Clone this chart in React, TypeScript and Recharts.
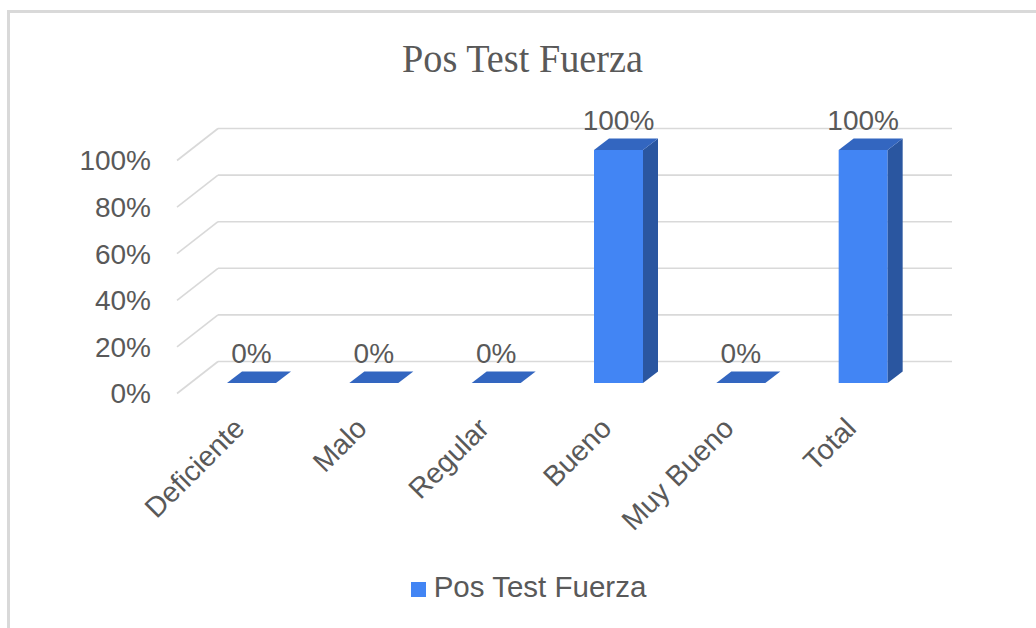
import { Bar, BarChart, CartesianGrid, LabelList, Legend, XAxis, YAxis } from "recharts";

const categories = ["Deficiente", "Malo", "Regular", "Bueno", "Muy Bueno", "Total"];
const values = [0, 0, 0, 1, 0, 1];
const yTicks = [0, 0.2, 0.4, 0.6, 0.8, 1];
const seriesName = "Pos Test Fuerza";

const data = categories.map((name, i) => ({ name, value: values[i] }));

const W = 1036;
const H = 628;
const PLOT_LEFT = 190;
const PLOT_RIGHT = 924;
const PLOT_TOP = 150;
const PLOT_BOTTOM = 383;

// 3d offsets
const BACK_DX = 28;
const BACK_DY = -21.5;
const FRONT_DX = -13;
const FRONT_DY = 10.5;
const DEPTH_X = 15;
const DEPTH_Y = -11.5;

const textColor = "#595959";
const sans = "'Liberation Sans', Arial, sans-serif";

const pct = (v: number) => `${Math.round(v * 100)}%`;

function GridLine(props: any) {
  const { x1, x2, y1, index } = props;
  return (
    <g key={`grid-${index}`}>
      <line x1={x1 + BACK_DX} x2={x2 + BACK_DX} y1={y1 + BACK_DY} y2={y1 + BACK_DY} stroke="#d9d9d9" strokeWidth={1.6} />
      <line x1={x1 + FRONT_DX} y1={y1 + FRONT_DY} x2={x1 + BACK_DX} y2={y1 + BACK_DY} stroke="#d9d9d9" strokeWidth={1.6} />
    </g>
  );
}

function Bar3D(props: any) {
  const { x, y, width, height } = props;
  const top = `${x},${y} ${x + DEPTH_X},${y + DEPTH_Y} ${x + width + DEPTH_X},${y + DEPTH_Y} ${x + width},${y}`;
  const side = `${x + width},${y} ${x + width + DEPTH_X},${y + DEPTH_Y} ${x + width + DEPTH_X},${y + height + DEPTH_Y} ${x + width},${y + height}`;
  return (
    <g>
      {height > 0 && <rect x={x} y={y} width={width} height={height} fill="#4285f4" />}
      {height > 0 && <polygon points={side} fill="#2a56a0" />}
      <polygon points={top} fill="#3366c0" />
    </g>
  );
}

function YTick(props: any) {
  const { y, payload } = props;
  return (
    <text x={PLOT_LEFT - 39} y={y + FRONT_DY} dy="0.35em" textAnchor="end" fill={textColor} fontSize={28} fontFamily={sans}>
      {pct(payload.value)}
    </text>
  );
}

function XTick(props: any) {
  const { x, payload } = props;
  const tx = x - 5;
  const ty = PLOT_BOTTOM + 47;
  return (
    <text
      x={tx}
      y={ty}
      textAnchor="end"
      transform={`rotate(-45 ${tx} ${ty})`}
      fill={textColor}
      fontSize={28.5}
      fontFamily={sans}
    >
      {payload.value}
    </text>
  );
}

function ValueLabel(props: any) {
  const { x, y, width, value } = props;
  return (
    <text x={x + width / 2} y={y - 20} textAnchor="middle" fill={textColor} fontSize={28} fontFamily={sans}>
      {pct(value)}
    </text>
  );
}

function LegendContent() {
  return (
    <div style={{ display: "flex", justifyContent: "center", alignItems: "center", paddingLeft: 21 }}>
      <span style={{ display: "inline-block", width: 15, height: 15, background: "#4285f4", marginRight: 8, position: "relative", top: 2 }} />
      <span style={{ fontSize: 29.5, color: textColor, fontFamily: sans }}>{seriesName}</span>
    </div>
  );
}

export default function App() {
  return (
    <div style={{ position: "relative", width: W, height: H, overflow: "hidden", background: "#fff" }}>
      <style>{`body{margin:0}`}</style>
      <div
        style={{
          position: "absolute",
          left: 7,
          top: 10,
          width: W,
          height: H,
          borderTop: "3px solid #d9d9d9",
          borderLeft: "3px solid #d9d9d9",
        }}
      />
      <svg style={{ position: "absolute", left: 0, top: 0 }} width={W} height={100}>
        <text
          x={522.5}
          y={72}
          textAnchor="middle"
          fontSize={40}
          fontFamily="'Liberation Serif', 'Times New Roman', serif"
          fill={textColor}
          textLength={241}
          lengthAdjust="spacingAndGlyphs"
        >
          {seriesName}
        </text>
      </svg>
      <div style={{ position: "absolute", left: 0, top: 0 }}>
        <BarChart
          width={W}
          height={H}
          data={data}
          margin={{ top: PLOT_TOP, right: W - PLOT_RIGHT, bottom: H - PLOT_BOTTOM - 40, left: PLOT_LEFT - 40 }}
        >
          <CartesianGrid vertical={false} horizontal={GridLine} />
          <XAxis dataKey="name" axisLine={false} tickLine={false} interval={0} height={40} tick={<XTick />} />
          <YAxis domain={[0, 1]} ticks={yTicks} axisLine={false} tickLine={false} width={40} tick={<YTick />} />
          <Legend
            layout="horizontal"
            verticalAlign="middle"
            align="center"
            content={<LegendContent />}
            wrapperStyle={{ top: 570, left: 0, width: W }}
          />
          <Bar dataKey="value" name={seriesName} barSize={49} shape={<Bar3D />} isAnimationActive={false}>
            <LabelList dataKey="value" content={<ValueLabel />} />
          </Bar>
        </BarChart>
      </div>
    </div>
  );
}
